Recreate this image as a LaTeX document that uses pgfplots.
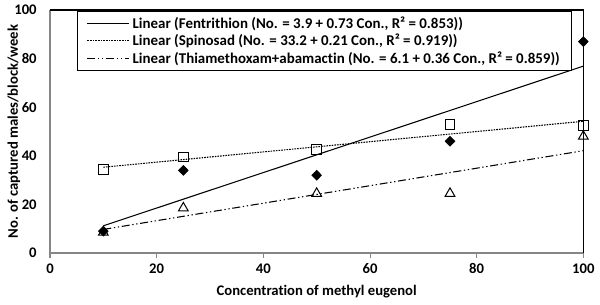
\documentclass[border=0pt]{standalone}
\usepackage{pgfplots}
\pgfplotsset{compat=1.18}
\usepackage{fontspec}
\setmainfont{Carlito}[Ligatures=NoCommon]
\definecolor{axgray}{HTML}{868686}
\newcommand\bigb{\fontsize{11pt}{13pt}\selectfont\bfseries}
\newcommand\legb{\fontsize{11.2pt}{13pt}\selectfont\bfseries}
\begin{document}
\begin{tikzpicture}
\path[use as bounding box] (-37.5pt,-38.25pt) rectangle (412.5pt,189.75pt);
\begin{axis}[
  at={(0pt,0pt)}, anchor=south west,
  scale only axis, width=400pt, height=182.25pt,
  xmin=0, xmax=100, ymin=0, ymax=100,
  xtick={0,20,...,100}, ytick={0,20,...,100},
  axis x line*=bottom, axis y line*=left,
  x axis line style={axgray, line width=0.9pt},
  y axis line style={axgray, line width=0.9pt},
  tick align=outside, major tick length=3.5pt,
  xtick style={axgray, line width=0.75pt},
  ytick style={draw=none},
  ticklabel style={font=\bigb},
  /pgf/number format/assume math mode=true,
  yticklabel style={xshift=-3pt},
  xticklabel style={yshift=-1pt},
  xlabel={Concentration of methyl eugenol},
  ylabel={No. of captured males/block/week},
  label style={font=\bigb},
  xlabel style={at={(axis description cs:0.5,-0.16)}, anchor=center},
  ylabel style={at={(axis description cs:-0.0675,0.5)}, anchor=center, rotate=0},
  clip=false,
  legend cell align=left,
  legend image code/.code={\draw[#1] (0pt,0pt) -- (31.5pt,0pt);},
  legend style={at={(axis description cs:0.051,0.996)}, anchor=north west,
    draw=black, line width=0.6pt, font=\legb, fill=white,
    inner xsep=7pt, inner ysep=1.8pt, row sep=-1pt},
]
\addplot[black, line width=0.8pt] coordinates {(10,11.2) (100,76.9)};
\addlegendentry{Linear (Fentrithion (No. = 3.9 + 0.73 Con., R² = 0.853))}
\addplot[black, line width=0.8pt, dash pattern=on 1.2pt off 0.8pt] coordinates {(10,35.3) (100,54.2)};
\addlegendentry{Linear (Spinosad (No. = 33.2 + 0.21 Con., R² = 0.919))}
\addplot[black, line width=0.8pt, dash pattern=on 6pt off 2pt on 1pt off 2pt on 1pt off 2pt] coordinates {(10,9.7) (100,42.1)};
\addlegendentry{Linear (Thiamethoxam+abamactin (No. = 6.1 + 0.36 Con., R² = 0.859))}
\addplot[only marks, mark=diamond*, mark size=3.7pt, mark options={fill=black, draw=black, line width=0.5pt, xscale=1.3}, forget plot]
  coordinates {(10,9) (25,34) (50,32) (75,46) (100,87)};
\addplot[only marks, mark=square, mark size=3.7pt, mark options={draw=black, line width=0.75pt}, forget plot]
  coordinates {(10,34.5) (25,39.5) (50,42.5) (75,53) (100,52.5)};
\addplot[only marks, mark=triangle, mark size=4.2pt, mark options={draw=black, line width=0.75pt}, forget plot]
  coordinates {(10,8.5) (25,18.5) (50,24.5) (75,24.5) (100,48)};
\draw[black, line width=0.9pt] (rel axis cs:0,1) -- (rel axis cs:1,1) -- (rel axis cs:1,0);
\end{axis}
\end{tikzpicture}
\end{document}
